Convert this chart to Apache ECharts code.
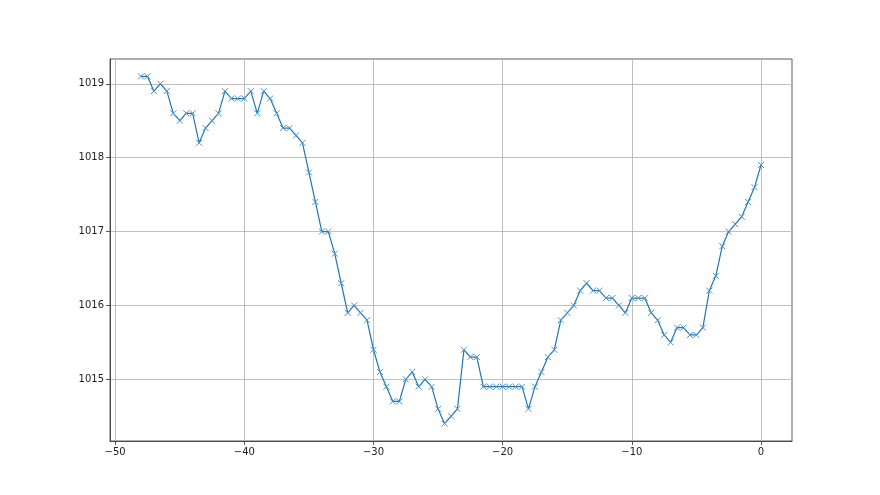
<!DOCTYPE html>
<html>
<head>
<meta charset="utf-8">
<script src="https://cdn.jsdelivr.net/npm/echarts@6/dist/echarts.min.js"></script>
<style>
  html, body { margin: 0; padding: 0; background: #fff; }
  #chart { width: 880px; height: 495px; }
</style>
</head>
<body>
<div id="chart"></div>
<script>
// hours before now
var hours = [
  -48, -47.5, -47, -46.5, -46, -45.5, -45, -44.5, -44, -43.5,
  -43, -42.5, -42, -41.5, -41, -40.5, -40, -39.5, -39, -38.5,
  -38, -37.5, -37, -36.5, -36, -35.5, -35, -34.5, -34, -33.5,
  -33, -32.5, -32, -31.5, -31, -30.5, -30, -29.5, -29, -28.5,
  -28, -27.5, -27, -26.5, -26, -25.5, -25, -24.5, -24, -23.5,
  -23, -22.5, -22, -21.5, -21, -20.5, -20, -19.5, -19, -18.5,
  -18, -17.5, -17, -16.5, -16, -15.5, -15, -14.5, -14, -13.5,
  -13, -12.5, -12, -11.5, -11, -10.5, -10, -9.5, -9, -8.5,
  -8, -7.5, -7, -6.5, -6, -5.5, -5, -4.5, -4, -3.5,
  -3, -2.5, -2, -1.5, -1, -0.5, 0
];
// pressure readings
var pressure = [
  1019.1, 1019.1, 1018.9, 1019.0, 1018.9, 1018.6, 1018.5, 1018.6, 1018.6, 1018.2,
  1018.4, 1018.5, 1018.6, 1018.9, 1018.8, 1018.8, 1018.8, 1018.9, 1018.6, 1018.9,
  1018.8, 1018.6, 1018.4, 1018.4, 1018.3, 1018.2, 1017.8, 1017.4, 1017.0, 1017.0,
  1016.7, 1016.3, 1015.9, 1016.0, 1015.9, 1015.8, 1015.4, 1015.1, 1014.9, 1014.7,
  1014.7, 1015.0, 1015.1, 1014.9, 1015.0, 1014.9, 1014.6, 1014.4, 1014.5, 1014.6,
  1015.4, 1015.3, 1015.3, 1014.9, 1014.9, 1014.9, 1014.9, 1014.9, 1014.9, 1014.9,
  1014.6, 1014.9, 1015.1, 1015.3, 1015.4, 1015.8, 1015.9, 1016.0, 1016.2, 1016.3,
  1016.2, 1016.2, 1016.1, 1016.1, 1016.0, 1015.9, 1016.1, 1016.1, 1016.1, 1015.9,
  1015.8, 1015.6, 1015.5, 1015.7, 1015.7, 1015.6, 1015.6, 1015.7, 1016.2, 1016.4,
  1016.8, 1017.0, 1017.1, 1017.2, 1017.4, 1017.6, 1017.9
];
var xTicks = [-50, -40, -30, -20, -10, 0];
var yTicks = [1015, 1016, 1017, 1018, 1019];

var chart = echarts.init(document.getElementById("chart"));

var minus = function (v) {
  return String(v).replace("-", "\u2212");
};

var frame = "#333";
var gridLine = { show: true, lineStyle: { color: "#b0b0b0", width: 0.8 } };
var tick = { show: true, inside: false, length: 4, lineStyle: { color: frame, width: 0.8 } };
var label = { color: "#222", fontSize: 10, fontFamily: "DejaVu Sans", margin: 6 };

chart.setOption({
  animation: false,
  backgroundColor: "#fff",
  grid: {
    left: 110,
    right: 88,
    top: 59,
    bottom: 54,
    show: true,
    borderColor: frame,
    borderWidth: 0.8
  },
  xAxis: {
    type: "value",
    min: -50.4,
    max: 2.4,
    axisLine: { show: true, onZero: false, lineStyle: { color: frame, width: 0.8 } },
    axisTick: Object.assign({ customValues: xTicks }, tick),
    axisLabel: Object.assign({ customValues: xTicks, formatter: minus }, label),
    splitLine: gridLine
  },
  yAxis: {
    type: "value",
    min: 1014.165,
    max: 1019.335,
    axisLine: { show: true, onZero: false, lineStyle: { color: frame, width: 0.8 } },
    axisTick: Object.assign({ customValues: yTicks }, tick),
    axisLabel: Object.assign({ customValues: yTicks, formatter: function (v) { return String(v); } }, label),
    splitLine: gridLine
  },
  series: [
    {
      type: "line",
      data: hours.map(function (h, i) { return [h, pressure[i]]; }),
      symbol: "path://M0,0L10,10M10,0L0,10",
      symbolSize: 6,
      showAllSymbol: true,
      lineStyle: { color: "#1f77b4", width: 1.2 },
      itemStyle: { color: "#1f77b4", borderColor: "#4a94c9", borderWidth: 1 }
    }
  ]
});
</script>
</body>
</html>
